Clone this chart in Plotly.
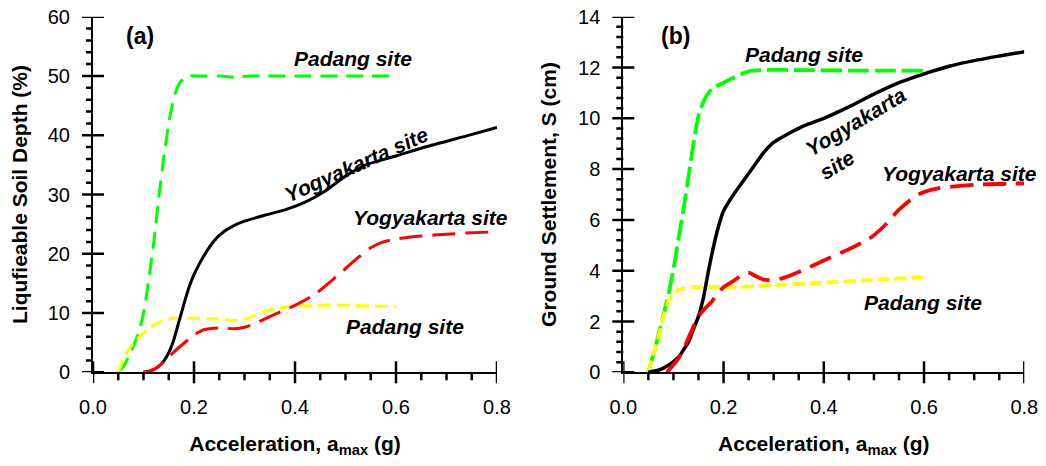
import plotly.graph_objects as go

# ---------------- Panel (a): Liquefiable soil depth (%) ----------------
a_padang_x = [0.05, 0.06, 0.07, 0.08, 0.09, 0.10, 0.11, 0.12, 0.13, 0.14, 0.15, 0.16, 0.17, 0.18,
              0.19, 0.21, 0.25, 0.28, 0.31, 0.40, 0.50, 0.60]
a_padang_y1 = [0, 1.0, 2.5, 4.4, 6.6, 9.9, 15.4, 21.7, 29.2, 36.2, 42.0, 46.3, 48.6, 49.6,
               50.0, 50.0, 50.0, 49.8, 50.0, 50.0, 50.0, 50.0]

a_padang2_x = [0.05, 0.06, 0.07, 0.08, 0.09, 0.10, 0.11, 0.12, 0.13, 0.14, 0.15, 0.16, 0.18, 0.20,
               0.23, 0.26, 0.28, 0.30, 0.33, 0.36, 0.40, 0.45, 0.50, 0.55, 0.60]
a_padang_y2 = [0, 2.2, 3.7, 4.9, 5.8, 6.6, 7.3, 7.9, 8.4, 8.75, 9.0, 9.1, 9.1, 9.1,
               9.05, 8.9, 8.75, 8.9, 9.9, 10.7, 11.2, 11.3, 11.3, 11.2, 11.1]

a_yogya_x = [0.10, 0.11, 0.12, 0.13, 0.14, 0.15, 0.16, 0.17, 0.18, 0.19, 0.20, 0.22, 0.24, 0.26,
             0.28, 0.30, 0.34, 0.38, 0.42, 0.46, 0.50, 0.54, 0.60, 0.67, 0.74, 0.80]
a_yogya_y1 = [0, 0.15, 0.45, 1.0, 1.9, 3.3, 5.5, 8.5, 11.5, 14.3, 16.5, 19.7, 22.2, 23.8,
              24.8, 25.5, 26.5, 27.4, 28.7, 30.6, 33.1, 35.0, 36.5, 38.3, 39.9, 41.3]

a_yogya2_x = [0.10, 0.11, 0.12, 0.13, 0.145, 0.16, 0.18, 0.20, 0.22, 0.25, 0.28, 0.30, 0.32, 0.35,
              0.40, 0.44, 0.48, 0.52, 0.55, 0.575, 0.60, 0.65, 0.70, 0.75, 0.80]
a_yogya_y2 = [0, 0.15, 0.45, 1.0, 2.1, 3.4, 4.9, 6.3, 7.2, 7.5, 7.35, 7.6, 8.2, 9.4,
              11.3, 13.2, 16.0, 19.0, 21.0, 22.0, 22.5, 23.0, 23.3, 23.55, 23.7]

# ---------------- Panel (b): Ground settlement S (cm) ----------------
b_padang_x = [0.05, 0.06, 0.07, 0.08, 0.09, 0.10, 0.11, 0.12, 0.13, 0.14, 0.15, 0.16, 0.17, 0.18,
              0.20, 0.22, 0.25, 0.28, 0.35, 0.45, 0.60]
b_padang_y1 = [0, 0.7, 1.45, 2.25, 3.05, 4.05, 5.25, 6.4, 7.7, 9.0, 10.1, 10.65, 11.0, 11.2,
               11.4, 11.6, 11.85, 11.9, 11.9, 11.88, 11.88]

b_padang2_x = [0.05, 0.06, 0.07, 0.08, 0.09, 0.10, 0.11, 0.12, 0.14, 0.18, 0.22, 0.26, 0.30,
               0.40, 0.50, 0.60]
b_padang_y2 = [0, 0.7, 1.35, 2.2, 2.8, 3.1, 3.25, 3.3, 3.36, 3.36, 3.36, 3.38, 3.43,
               3.53, 3.64, 3.75]

b_yogya_x = [0.05, 0.07, 0.09, 0.11, 0.13, 0.14, 0.15, 0.16, 0.17, 0.18, 0.19, 0.20, 0.22, 0.24,
             0.26, 0.28, 0.30, 0.33, 0.36, 0.40, 0.45, 0.50, 0.55, 0.60, 0.65, 0.70, 0.75, 0.80]
b_yogya_y1 = [0, 0.08, 0.28, 0.6, 1.2, 1.7, 2.2, 2.95, 4.0, 4.95, 5.75, 6.35, 7.0, 7.55,
              8.1, 8.65, 9.05, 9.4, 9.7, 10.0, 10.45, 10.95, 11.4, 11.75, 12.05, 12.27, 12.45, 12.62]

b_yogya2_x = [0.087, 0.10, 0.11, 0.12, 0.13, 0.14, 0.15, 0.16, 0.175, 0.19, 0.20, 0.22, 0.24, 0.25,
              0.265, 0.28, 0.30, 0.32, 0.35, 0.40, 0.45, 0.49, 0.52, 0.55, 0.58, 0.60, 0.63, 0.70, 0.80]
b_yogya_y2 = [0, 0.3, 0.55, 0.9, 1.35, 1.8, 2.2, 2.45, 2.75, 3.15, 3.35, 3.6, 3.88, 3.92,
              3.78, 3.65, 3.63, 3.72, 3.95, 4.4, 4.85, 5.25, 5.75, 6.4, 6.9, 7.1, 7.25, 7.38, 7.44]

x_range = [0.0, 0.8]
x_tick_step = 0.2
x_minor_step = 0.05
x_tick_format = ".1f"
ya_range = [0, 60]
ya_step, ya_minor = 10, 2
yb_range = [0, 14]
yb_step, yb_minor = 2, 0.4

FONT = "Liberation Sans, Arial, sans-serif"
# the page body adds an 8 px margin, so the figure is 16 px smaller than the window
W, H = 1030, 450
OFF = 8

GREEN, YELLOW, RED, BLACK = "#00FF00", "#FFFF00", "#FF0000", "#000000"

fig = go.Figure()

def add(x, y, color, dash, width, xa, ya):
    fig.add_trace(go.Scatter(
        x=x, y=y, mode="lines", xaxis=xa, yaxis=ya,
        line=dict(color=color, width=width, dash=dash, shape="spline", smoothing=0.6),
        showlegend=False, hoverinfo="skip"))

# panel (a)
add(a_padang_x, a_padang_y1, GREEN, "17px,9px", 3, "x", "y")
add(a_padang2_x, a_padang_y2, YELLOW, "13px,6px", 3, "x", "y")
add(a_yogya_x, a_yogya_y1, BLACK, "solid", 3, "x", "y")
add(a_yogya2_x, a_yogya_y2, RED, "23px,10px", 3, "x", "y")
# panel (b)
add(b_padang_x, b_padang_y1, GREEN, "21px,6px", 3.8, "x2", "y2")
add(b_padang2_x, b_padang_y2, YELLOW, "12px,5px", 3.8, "x2", "y2")
add(b_yogya_x, b_yogya_y1, BLACK, "solid", 3.5, "x2", "y2")
add(b_yogya2_x, b_yogya_y2, RED, "23px,10px", 3.8, "x2", "y2")

dom_a = [(93 - OFF) / W, (497 - OFF) / W]
dom_b = [(623.3 - OFF) / W, (1024.3 - OFF) / W]
dom_y = [1 - (372.3 - OFF) / H, 1 - (16.7 - OFF) / H]

tickfont = dict(family=FONT, size=20, color="black")
titlefont = dict(family=FONT, size=21, color="black")

def xaxis_main(dom, anchor):
    return dict(domain=dom, anchor=anchor, range=x_range, tickmode="linear", tick0=0,
                dtick=x_tick_step, tickformat=x_tick_format, ticks="", automargin=False,
                showline=True, linewidth=2, linecolor="black", showgrid=False, zeroline=False,
                tickfont=tickfont, ticklabeloverflow="allow", ticklabelstandoff=16,
                title=dict(text="<b>Acceleration, a<sub>max</sub> (g)</b>", font=titlefont, standoff=31))

def yaxis_main(dom, anchor, rng, dtick, title):
    return dict(domain=dom, anchor=anchor, range=rng, tickmode="linear", dtick=dtick, tick0=0,
                ticks="", automargin=False,
                showline=True, linewidth=2, linecolor="black", showgrid=False, zeroline=False,
                tickfont=tickfont, ticklabeloverflow="allow", ticklabelstandoff=17,
                title=dict(text="<b>" + title + "</b>", font=titlefont, standoff=16))

fig.update_layout(
    width=W, height=H,
    margin=dict(l=0, r=0, t=0, b=0),
    paper_bgcolor="white", plot_bgcolor="white",
    font=dict(family=FONT, color="black"),
    xaxis=xaxis_main(dom_a, "y"),
    yaxis=yaxis_main(dom_y, "x", ya_range, ya_step, "Liqufieable Soil Depth (%)"),
    xaxis2=xaxis_main(dom_b, "y2"),
    yaxis2=yaxis_main(dom_y, "x2", yb_range, yb_step, "Ground Settlement, S (cm)"),
)

# crossing major ticks and outward minor ticks, placed on the axis scales
def n_steps(lo, hi, step):
    return int(round((hi - lo) / step))

TICK_LINE = dict(color="black", width=2.5)

def x_ticks_shapes(xref, yref_dom, step, minor):
    for i in range(n_steps(x_range[0], x_range[1], minor) + 1):
        v = x_range[0] + i * minor
        major = abs(v / step - round(v / step)) < 1e-6
        fig.add_shape(type="line", xref=xref, yref=yref_dom, x0=v, x1=v,
                      ysizemode="pixel", yanchor=0, y0=-11 if major else -8, y1=11 if major else 0,
                      line=TICK_LINE, layer="above")

def y_ticks_shapes(xref_dom, yref, rng, step, minor):
    for i in range(n_steps(rng[0], rng[1], minor) + 1):
        v = rng[0] + i * minor
        major = abs(v / step - round(v / step)) < 1e-6
        fig.add_shape(type="line", xref=xref_dom, yref=yref, y0=v, y1=v,
                      xsizemode="pixel", xanchor=0, x0=-11 if major else -7, x1=11 if major else 0,
                      line=TICK_LINE, layer="above")

x_ticks_shapes("x", "y domain", x_tick_step, x_minor_step)
y_ticks_shapes("x domain", "y", ya_range, ya_step, ya_minor)
x_ticks_shapes("x2", "y2 domain", x_tick_step, x_minor_step)
y_ticks_shapes("x2 domain", "y2", yb_range, yb_step, yb_minor)

def label(text, x, y, xref, yref, angle=0, align="center", size=21):
    fig.add_annotation(text=text, x=x, y=y, xref=xref, yref=yref, showarrow=False,
                       textangle=angle, align=align, font=dict(family=FONT, size=size, color="black"),
                       xanchor="center", yanchor="middle")

# panel (a) labels
label("<b>(a)</b>", 0.093, 56.7, "x", "y", size=23)
label("<b><i>Padang site</i></b>", 0.515, 52.9, "x", "y")
label("<b><i>Yogyakarta site</i></b>", 0.521, 35.1, "x", "y", angle=-24)
label("<b><i>Yogyakarta site</i></b>", 0.669, 26.2, "x", "y")
label("<b><i>Padang site</i></b>", 0.618, 7.8, "x", "y")
# panel (b) labels
label("<b>(b)</b>", 0.105, 13.24, "x2", "y2", size=23)
label("<b><i>Padang site</i></b>", 0.360, 12.53, "x2", "y2")
label("<b><i>Yogyakarta<br>site</i></b>", 0.478, 9.44, "x2", "y2", angle=-31, align="left")
label("<b><i>Yogyakarta site</i></b>", 0.670, 7.81, "x2", "y2")
label("<b><i>Padang site</i></b>", 0.598, 2.73, "x2", "y2")

fig.write_html("out.html")
